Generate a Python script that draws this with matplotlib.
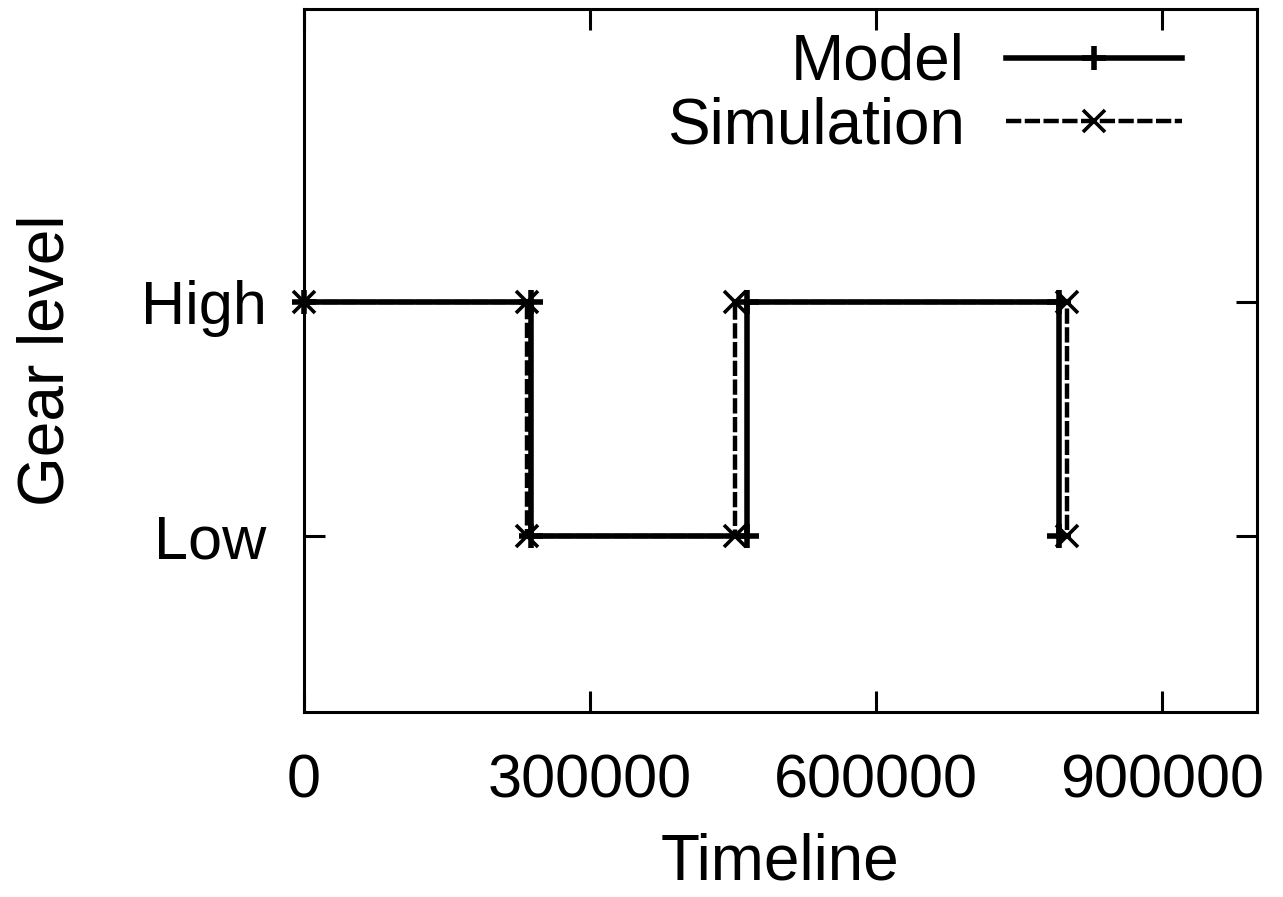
"""Gear level timeline: model prediction against simulation output."""

import matplotlib
matplotlib.use("Agg")
import matplotlib.pyplot as plt
from matplotlib.ticker import FixedLocator, FixedFormatter

# Gear shift events (time, gear).
model_time = [0, 238000, 238000, 465000, 465000, 792000, 792000]
model_gear = ["High", "High", "Low", "Low", "High", "High", "Low"]
sim_time = [0, 234000, 234000, 452000, 452000, 801000, 801000]
sim_gear = ["High", "High", "Low", "Low", "High", "High", "Low"]

gear_levels = ["Low", "High"]
x_ticks = [0, 300000, 600000, 900000]

FONT = "Liberation Sans"
TICK_SIZE = 44
LABEL_SIZE = 46


def _gear_values(gears):
    lut = {name: i for i, name in enumerate(gear_levels)}
    return [lut[g] for g in gears]


def _make_axes(figure):
    axes = figure.add_axes([0.2369, 0.2062, 0.7428, 0.7838])
    axes.set_xlim(0, 1000000)
    axes.set_ylim(-0.75, len(gear_levels) + 0.25)
    axes.xaxis.set_major_locator(FixedLocator(x_ticks))
    axes.xaxis.set_major_formatter(FixedFormatter([str(t) for t in x_ticks]))
    axes.yaxis.set_major_locator(FixedLocator(range(len(gear_levels))))
    axes.yaxis.set_major_formatter(FixedFormatter(gear_levels))
    axes.tick_params(
        which="major", direction="in", length=15, width=2.2,
        top=True, right=True, labelsize=TICK_SIZE, colors="black",
    )
    axes.tick_params(axis="x", pad=30)
    axes.tick_params(axis="y", pad=27)
    for spine in axes.spines.values():
        spine.set_linewidth(2.2)
    # kept a bit higher than the original so the label stays inside the figure
    axes.set_xlabel("Timeline", fontsize=LABEL_SIZE, labelpad=16)
    axes.set_ylabel("Gear level", fontsize=LABEL_SIZE, labelpad=46)
    return axes


def main():
    plt.rcParams["font.family"] = [FONT, "DejaVu Sans"]
    plt.rcParams["lines.scale_dashes"] = False
    figure = plt.figure(figsize=(12.83, 8.97), dpi=100)
    axes = _make_axes(figure)

    axes.plot(
        model_time, _gear_values(model_gear),
        color="black", linewidth=4.0, linestyle="-",
        marker="+", markersize=17, markeredgewidth=4.0,
        label="Model", clip_on=False, zorder=3,
    )
    axes.plot(
        sim_time, _gear_values(sim_gear),
        color="black", linewidth=3.2, linestyle=(0, (11, 2.5)),
        marker="x", markersize=16, markeredgewidth=2.6,
        label="Simulation", clip_on=False, zorder=4,
    )

    axes.legend(
        loc="upper right",
        bbox_to_anchor=(0.9213, 0.966),
        frameon=False,
        markerfirst=False,
        numpoints=1,
        fontsize=LABEL_SIZE,
        handlelength=2.76,
        handletextpad=0.64,
        labelspacing=0.06,
        borderpad=0,
        borderaxespad=0,
    )

    figure.savefig("out.png", dpi=100)


if __name__ == "__main__":
    main()
